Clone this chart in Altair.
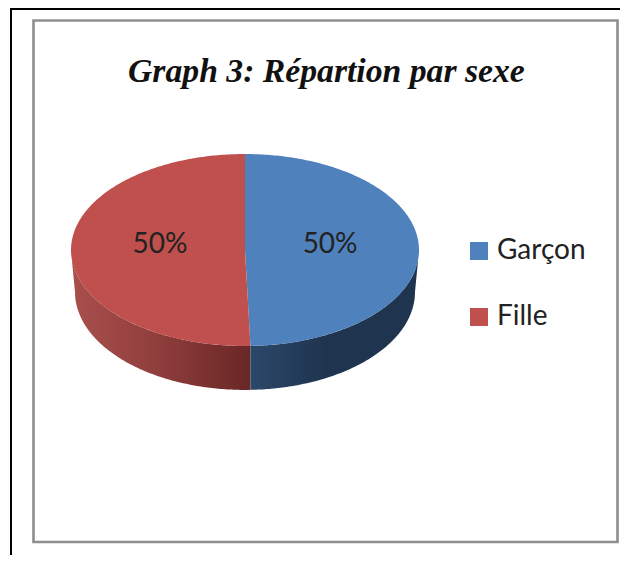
import numpy as np
import pandas as pd
import altair as alt

TITLE = "Graph 3: Répartion par sexe"
CATEGORIES = ["Garçon", "Fille"]
SHARES = [49.5, 50.5]
LABELS = ["50%", "50%"]
LABEL_U = [0.489, -0.489]
LABEL_V = [0.05, 0.05]
COLORS = ["#4f81bd", "#c0504d"]

# pie geometry in unit-ellipse coordinates; the x and y scales stretch it
DROP = 0.4375
BOTTOM_RX = 0.977
BOTTOM_RY = 1.02
SIDE_LIMIT = 0.995

theta = np.deg2rad(SHARES[0] * 3.6)
bx, by = np.sin(theta), np.cos(theta)


def boundary(v):
    return np.where(v < 0, v * bx / by, 0.0)


t = np.linspace(-np.pi / 2, np.pi / 2, 241)
vs = np.sin(t)
half = np.sqrt(np.clip(1 - vs**2, 0, 1))

v_g = np.sort(np.append(vs[vs > by], by))
top_g = pd.DataFrame({"cat": CATEGORIES[0], "v": v_g,
                      "x0": boundary(v_g),
                      "x1": np.sqrt(np.clip(1 - v_g**2, 0, 1))})
top_f = pd.DataFrame({"cat": CATEGORIES[1], "v": vs,
                      "x0": -half,
                      "x1": np.minimum(boundary(vs), half)})
top = pd.concat([top_g, top_f], ignore_index=True)


def side(u):
    upper = -np.sqrt(np.clip(1 - u**2, 0, 1))
    inner = np.clip(np.abs(u) / BOTTOM_RX, 0, 1)
    lower = -DROP - BOTTOM_RY * np.sqrt(1 - inner**2)
    outside = np.abs(u) > BOTTOM_RX
    frac = (np.abs(u) - BOTTOM_RX) / (SIDE_LIMIT - BOTTOM_RX)
    upper_lim = -np.sqrt(1 - SIDE_LIMIT**2)
    lower = np.where(outside, -DROP + (upper_lim + DROP) * frac, lower)
    return pd.DataFrame({"u": u, "upper": upper, "lower": lower})


ends = BOTTOM_RX * np.sin(np.linspace(-np.pi / 2, np.pi / 2, 241))
u_all = np.concatenate([[-SIDE_LIMIT], ends, [SIDE_LIMIT], [bx]])
u_all = np.unique(u_all)
side_df = side(u_all)
side_red = side_df[side_df.u <= bx]
side_blue = side_df[side_df.u >= bx]

X = alt.Scale(domain=[-1, 1], range=[63, 411])
Y = alt.Scale(domain=[-1, 1], range=[338, 146])

outer_top = alt.Chart().mark_rule(color="black", strokeWidth=2).encode(
    x=alt.value(3), x2=alt.value(612), y=alt.value(1))
outer_left = alt.Chart().mark_rule(color="black", strokeWidth=2).encode(
    x=alt.value(3), y=alt.value(0), y2=alt.value(547))
frame = alt.Chart().mark_rect(stroke="#8e8e8e", strokeWidth=2.6, fill="white").encode(
    x=alt.value(25.5), x2=alt.value(609.5), y=alt.value(12.5), y2=alt.value(534))


def gradient(stops):
    return alt.Gradient(gradient="linear", x1=0, x2=1, y1=0, y2=0,
                        stops=[alt.GradientStop(offset=o, color=c) for o, c in stops])


def side_layer(df, stops):
    return alt.Chart(df).mark_area(color=gradient(stops), orient="vertical").encode(
        x=alt.X("u:Q", scale=X, axis=None),
        y=alt.Y("upper:Q", scale=Y, axis=None, stack=None),
        y2="lower:Q")


side_r = side_layer(side_red, [(0, "#a94f4c"), (0.45, "#913f3d"), (1, "#692725")])
side_b = side_layer(side_blue, [(0, "#2b4869"), (0.45, "#1f344f"), (1, "#1f344f")])

top_layer = alt.Chart(top).mark_area(orient="horizontal").encode(
    y=alt.Y("v:Q", scale=Y, axis=None, stack=None),
    x=alt.X("x0:Q", scale=X, axis=None),
    x2="x1:Q",
    color=alt.Color("cat:N",
                    scale=alt.Scale(domain=CATEGORIES, range=COLORS),
                    sort=CATEGORIES,
                    legend=alt.Legend(title=None, orient="none", legendX=457, legendY=229,
                                      symbolType="square", symbolSize=324, symbolStrokeWidth=0,
                                      labelFont="Lato", labelFontSize=28, labelColor="#222222",
                                      rowPadding=38, labelOffset=4, labelLimit=200)),
)

labels = alt.Chart(pd.DataFrame({"u": LABEL_U, "v": LABEL_V, "t": LABELS})).mark_text(
    font="Lato", fontSize=28, color="#222222", baseline="middle").encode(
    x=alt.X("u:Q", scale=X, axis=None),
    y=alt.Y("v:Q", scale=Y, axis=None),
    text="t:N")

chart = alt.layer(outer_top, outer_left, frame, side_r, side_b, top_layer, labels).properties(
    width=612, height=547, padding=0,
    autosize=alt.AutoSizeParams(type="none"),
    background="white",
    title=alt.TitleParams(TITLE, font="Liberation Serif", fontSize=33.7, fontWeight="bold",
                          fontStyle="italic", color="#111111", anchor="start", frame="group",
                          dx=120, dy=86, align="left"),
).resolve_scale(x="shared", y="shared").configure_view(stroke=None)

chart.save("out.html", embed_options={"renderer": "svg", "actions": False})
